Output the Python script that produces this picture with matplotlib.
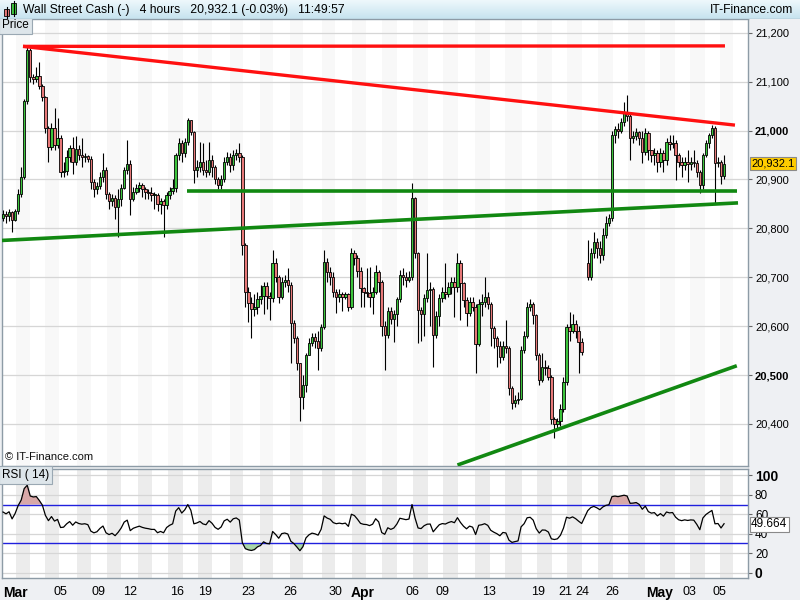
import numpy as np
import matplotlib.pyplot as plt
from matplotlib.patches import Rectangle

plt.rcParams['font.family'] = ['Liberation Sans', 'DejaVu Sans']

# 4h bars, Wall Street Cash, 1 Mar -> 5 May
closes = [
    20830, 20826, 20833, 20817, 20835, 20870, 20905, 21060, 21164, 21110,
    21105, 21112, 21092, 21068, 21005, 20966, 21005, 20970, 20985, 20915,
    20918, 20945, 20965, 20935, 20962, 20950, 20945, 20948, 20942, 20894,
    20880, 20886, 20905, 20919, 20870, 20855, 20862, 20843, 20860, 20883,
    20919, 20932, 20860, 20875, 20882, 20888, 20880, 20875, 20872, 20868,
    20868, 20850, 20855, 20848, 20868, 20877, 20883, 20950, 20975, 20953,
    20976, 21021, 20996, 20919, 20925, 20935, 20920, 20915, 20940, 20925,
    20900, 20888, 20900, 20935, 20945, 20930, 20950, 20955, 20945, 20766,
    20670, 20647, 20635, 20640, 20655, 20662, 20682, 20662, 20658, 20729,
    20700, 20660, 20690, 20694, 20685, 20607, 20576, 20524, 20455, 20480,
    20541, 20565, 20578, 20570, 20556, 20598, 20731, 20711, 20700, 20670,
    20660, 20665, 20660, 20665, 20640, 20750, 20740, 20712, 20678, 20670,
    20668, 20660, 20670, 20711, 20690, 20600, 20582, 20630, 20615, 20625,
    20655, 20705, 20700, 20695, 20700, 20862, 20750, 20633, 20625, 20657,
    20674, 20676, 20582, 20620, 20657, 20670, 20665, 20680, 20690, 20680,
    20729, 20688, 20653, 20627, 20650, 20640, 20563, 20645, 20650, 20660,
    20645, 20596, 20576, 20560, 20537, 20560, 20555, 20474, 20443, 20448,
    20452, 20552, 20580, 20640, 20645, 20622, 20541, 20490, 20517, 20515,
    20495, 20410, 20400, 20405, 20430, 20486, 20599, 20590, 20605, 20590,
    20568, 20548,
    20700, 20750, 20771, 20760, 20745, 20786, 20811, 20821, 20990, 21004,
    21000, 21017, 21035, 21030, 20984, 20988, 20996, 20985, 20956, 20995,
    20960, 20950, 20955, 20935, 20955, 20940, 20977, 20972, 20975, 20950,
    20935, 20930, 20935, 20932, 20935, 20934, 20915, 20888, 20950, 20974,
    20990, 21005, 20933, 20935, 20906, 20932.1,
]
highs = [
    20838, 20835, 20840, 20836, 20840, 20880, 20925, 21065, 21170, 21168,
    21115, 21130, 21140, 21095, 21070, 21010, 21015, 21045, 21025, 20990,
    20935, 20960, 20970, 20987, 20988, 20970, 20985, 20955, 20950, 20948,
    20900, 20895, 20915, 20954, 20925, 20875, 20870, 20868, 20880, 20890,
    20925, 20980, 20940, 20885, 20890, 20895, 20893, 20885, 20880, 20885,
    20875, 20872, 20862, 20860, 20875, 20885, 20900, 20955, 20985, 20980,
    20985, 21025, 21022, 21000, 20940, 20976, 20975, 20940, 20976, 20950,
    20930, 20905, 20910, 20945, 20956, 20955, 20960, 20962, 20974, 20950,
    20770, 20680, 20660, 20665, 20670, 20685, 20690, 20690, 20670, 20755,
    20740, 20705, 20700, 20705, 20719, 20690, 20612, 20580, 20525, 20500,
    20545, 20575, 20585, 20585, 20590, 20605, 20755, 20740, 20720, 20710,
    20675, 20675, 20670, 20670, 20668, 20760, 20755, 20745, 20720, 20680,
    20719, 20720, 20680, 20725, 20715, 20695, 20610, 20640, 20640, 20632,
    20660, 20715, 20718, 20710, 20712, 20893, 20865, 20752, 20640, 20665,
    20750, 20690, 20680, 20630, 20665, 20680, 20729, 20690, 20700, 20700,
    20750, 20735, 20690, 20660, 20660, 20660, 20645, 20655, 20665, 20700,
    20670, 20650, 20600, 20580, 20570, 20570, 20612, 20560, 20478, 20460,
    20465, 20560, 20590, 20650, 20655, 20650, 20625, 20545, 20545, 20530,
    20520, 20500, 20415, 20412, 20440, 20495, 20605, 20629, 20625, 20612,
    20600, 20575,
    20776, 20760, 20792, 20780, 20775, 20800, 20825, 20830, 21000, 21010,
    21015, 21025, 21058, 21072, 21035, 21000, 21005, 21000, 21000, 21005,
    21000, 20960, 20965, 20960, 20965, 20960, 20985, 20990, 20990, 20980,
    20955, 20945, 20945, 20960, 20945, 20960, 20940, 20920, 20955, 20980,
    20995, 21012, 21010, 20945, 20940, 20950,
]
lows = [
    20815, 20810, 20815, 20793, 20815, 20830, 20865, 20900, 21055, 21100,
    21095, 21100, 21085, 21060, 20995, 20935, 20960, 20960, 20965, 20905,
    20905, 20910, 20935, 20912, 20930, 20940, 20925, 20935, 20935, 20880,
    20865, 20870, 20880, 20895, 20860, 20840, 20845, 20820, 20782, 20845,
    20880, 20912, 20827, 20855, 20870, 20875, 20865, 20860, 20860, 20855,
    20840, 20835, 20830, 20782, 20840, 20860, 20870, 20875, 20940, 20935,
    20945, 20970, 20990, 20893, 20905, 20915, 20910, 20905, 20910, 20905,
    20890, 20880, 20880, 20895, 20930, 20915, 20920, 20940, 20935, 20745,
    20640, 20609, 20576, 20620, 20625, 20645, 20625, 20635, 20612, 20650,
    20690, 20647, 20655, 20680, 20670, 20524, 20565, 20510, 20405, 20430,
    20465, 20540, 20560, 20555, 20511, 20550, 20595, 20690, 20685, 20660,
    20627, 20650, 20630, 20655, 20630, 20635, 20725, 20700, 20640, 20640,
    20660, 20640, 20625, 20665, 20670, 20580, 20511, 20575, 20605, 20568,
    20600, 20650, 20685, 20680, 20690, 20695, 20740, 20565, 20570, 20580,
    20650, 20600, 20517, 20575, 20600, 20650, 20655, 20660, 20665, 20619,
    20670, 20612, 20640, 20600, 20620, 20630, 20504, 20560, 20620, 20640,
    20635, 20560, 20555, 20517, 20525, 20530, 20545, 20460, 20430, 20435,
    20440, 20448, 20545, 20575, 20630, 20605, 20530, 20480, 20485, 20500,
    20490, 20400, 20372, 20390, 20395, 20425, 20480, 20570, 20585, 20575,
    20504, 20540,
    20694, 20695, 20740, 20740, 20730, 20735, 20780, 20805, 20815, 20975,
    20985, 20995, 21010, 21020, 20940, 20975, 20980, 20970, 20933, 20950,
    20940, 20935, 20930, 20915, 20925, 20915, 20930, 20960, 20965, 20899,
    20925, 20905, 20920, 20895, 20920, 20925, 20905, 20873, 20880, 20945,
    20965, 20985, 20852, 20925, 20890, 20900,
]
first_open = 20822
gap_bar = 192          # first bar after the 21/24 April weekend gap
gap_open = 20729

# Wilder state at the first bar of the window
rsi_seed_gain, rsi_seed_loss = 6.0, 4.0
rsi_last_label = "49.664"

# bottom axis labels (bar positions)
date_pos = [4, 18.8, 31.4, 41.9, 57.4, 66.7, 80.9, 94.7, 109.6, 118.8,
            135, 144.9, 160.4, 176.6, 185.5, 191.1, 201, 216.8, 226.7, 236.6]
date_labels = ["Mar", "05", "09", "12", "16", "19", "23", "26", "30", "Apr",
               "06", "09", "13", "19", "21", "24", "26", "May", "03", "05"]
bold_labels = {"Mar", "Apr", "May"}

# session (day) boundaries, in bar units
day_edges = [-0.7, 4.3, 8.9, 13.9, 18.5, 24.4, 29.0, 34.3, 38.9, 44.6, 49.2,
             54.5, 59.4, 64.4, 69.0, 74.9, 79.2, 84.8, 89.1, 94.7, 99.0,
             105.3, 109.6, 115.2, 119.8, 125.1, 130.0, 135.3, 140.3, 145.2,
             150.2, 155.8, 160.7, 165.7, 171.3, 176.2, 181.2, 186.1, 191.1,
             196.4, 201.3, 206.3, 211.9, 216.8, 221.8, 226.7, 231.7, 236.6,
             240.9, 245.5]

# drawn trend lines: (bar, price) -> (bar, price)
red_lines = [((6.6, 21172), (238.3, 21173)),
             ((6.6, 21172), (241.6, 21011))]
green_lines = [((60.7, 20876), (242.2, 20876)),
               ((-1.0, 20775), (242.6, 20852)),
               ((150.0, 20316), (242.2, 20519))]

n = len(closes)
opens = [first_open] + closes[:-1]
opens[gap_bar] = gap_open
xs = np.arange(n) + (np.arange(n) >= gap_bar)

o = np.array(opens, float)
c = np.array(closes, float)
h = np.maximum(np.array(highs, float), np.maximum(o, c))
l = np.minimum(np.array(lows, float), np.minimum(o, c))

# RSI(14), Wilder smoothing
rsi = []
ag, al, prev = rsi_seed_gain, rsi_seed_loss, first_open
for v in closes:
    d = v - prev
    ag = (ag * 13 + max(d, 0)) / 14
    al = (al * 13 + max(-d, 0)) / 14
    rsi.append(100 - 100 / (1 + ag / al))
    prev = v
rsi = np.array(rsi)

fig = plt.figure(figsize=(8, 6), dpi=100, facecolor='#eef0f3')
ax = fig.add_axes([2/800, 1 - 466/600, 746/800, 447/600])
rax = fig.add_axes([2/800, 1 - 578/600, 746/800, 109/600], sharex=ax)
XL = (-0.33, 245.9)

for a, shade in ((ax, '#f8f8f8'), (rax, '#ececec')):
    a.set_facecolor('white')
    for k in range(1, len(day_edges) - 1, 2):
        a.axvspan(day_edges[k], day_edges[k + 1], color=shade, lw=0, zorder=0)
    for s in a.spines.values():
        s.set_color('#8d9ba6')
        s.set_linewidth(1)

# candles
up = c >= o
ax.vlines(xs, l, h, color='black', lw=0.8, zorder=3)
ax.bar(xs, np.maximum(np.abs(c - o), 1.5), bottom=np.minimum(o, c), width=0.8,
       color=np.where(up, '#3cc43c', '#e77878'), edgecolor='black',
       linewidth=0.6, zorder=3.5)

for (x0, y0), (x1, y1) in red_lines:
    ax.plot([x0, x1], [y0, y1], color='#ff1010', lw=2.4, zorder=4,
            solid_capstyle='butt')
for (x0, y0), (x1, y1) in green_lines:
    ax.plot([x0, x1], [y0, y1], color='#118811', lw=2.6, zorder=4,
            solid_capstyle='butt')

ax.set_xlim(*XL)
ax.set_ylim(20314, 21228)
ticks = list(range(20400, 21201, 100))
ax.set_yticks(ticks)
ax.set_yticklabels([f"{t:,}" for t in ticks])
ax.yaxis.tick_right()
ax.grid(axis='y', color='#d6d6d6', lw=0.9, zorder=1)
ax.set_axisbelow(True)
ax.tick_params(axis='y', length=3, color='#666', labelsize=8, pad=2)
ax.tick_params(axis='x', bottom=False, labelbottom=False)
for t in ax.get_yticklabels():
    if t.get_text() in ("21,000", "20,500"):
        t.set_fontweight('bold')
ax.text(1.004, c[-1], "20,932.1", transform=ax.get_yaxis_transform(),
        va='center', ha='left', fontsize=8, zorder=6, clip_on=False,
        bbox=dict(boxstyle='square,pad=0.12', fc='#ffcc00', ec='#8a8a8a', lw=0.8))
ax.text(0.0, 1.0, "Price", transform=ax.transAxes, va='top', ha='left',
        fontsize=8.5, zorder=6,
        bbox=dict(boxstyle='square,pad=0.25', fc='#dde5ea', ec='#9aa8b3', lw=0.8))
ax.text(0.004, 0.008, "© IT-Finance.com", transform=ax.transAxes, va='bottom',
        ha='left', fontsize=8, color='#111', zorder=6)

# RSI panel
rax.plot(xs, rsi, color='black', lw=0.9, zorder=3)
rax.fill_between(xs, rsi, 70, where=rsi > 70, interpolate=True,
                 color='#d8a8a8', lw=0, zorder=2)
rax.fill_between(xs, rsi, 30, where=rsi < 30, interpolate=True,
                 color='#a9d6a9', lw=0, zorder=2)
for lvl in (70, 30):
    rax.axhline(lvl, color='#2020dd', lw=1.0, zorder=2.5)
rax.set_ylim(-5.5, 106.5)
rticks = [0, 20, 40, 60, 80, 100]
rax.set_yticks(rticks)
rax.yaxis.tick_right()
rax.grid(axis='y', color='#d6d6d6', lw=0.9, zorder=1)
rax.set_axisbelow(True)
rax.tick_params(axis='y', length=3, color='#666', labelsize=8.5, pad=2)
for t in rax.get_yticklabels():
    if t.get_text() in ("0", "100"):
        t.set_fontweight('bold')
        t.set_fontsize(10)
rax.text(1.004, 49.664, rsi_last_label, transform=rax.get_yaxis_transform(),
         va='center', ha='left', fontsize=8.5, zorder=6, clip_on=False,
         bbox=dict(boxstyle='square,pad=0.12', fc='white', ec='#8a8a8a', lw=0.8))
rax.text(0.0, 1.0, "RSI ( 14)", transform=rax.transAxes, va='top', ha='left',
         fontsize=8.5, zorder=6,
         bbox=dict(boxstyle='square,pad=0.25', fc='#dde5ea', ec='#9aa8b3', lw=0.8))
rax.set_xticks(date_pos)
rax.set_xticklabels(date_labels)
rax.tick_params(axis='x', length=0, labelsize=9, pad=6)
for t in rax.get_xticklabels():
    if t.get_text() in bold_labels:
        t.set_fontweight('bold')
        t.set_fontsize(10)
rax.set_xlim(*XL)

# header bar
hax = fig.add_axes([0, 1 - 19/600, 1, 19/600])
grad = np.linspace(0, 1, 32).reshape(-1, 1)
hax.imshow(grad, aspect='auto', cmap=plt.matplotlib.colors.LinearSegmentedColormap
           .from_list('hdr', ['#eef8fc', '#c6e3ef']), extent=(0, 800, 19, 0))
hax.set_xlim(0, 800)
hax.set_ylim(19, 0)
hax.axis('off')
hax.axhline(18.5, color='#9aa8b3', lw=1)
for x0, y0, hgt, col in ((4, 9, 7, '#e77878'), (11, 3, 11, '#3cc43c')):
    hax.plot([x0 + 2.5, x0 + 2.5], [y0 - 2, y0 + hgt + 2], color='black', lw=0.8)
    hax.add_patch(Rectangle((x0, y0), 5, hgt, fc=col, ec='black', lw=0.6))
hax.text(23, 10, "Wall Street Cash (-)   4 hours   20,932.1 (-0.03%)   11:49:57",
         va='center', ha='left', fontsize=8.7, color='#000')
hax.text(793, 10, "IT-Finance.com", va='center', ha='right', fontsize=8.7,
         color='#000')

fig.savefig("out.png", dpi=100, facecolor=fig.get_facecolor())
